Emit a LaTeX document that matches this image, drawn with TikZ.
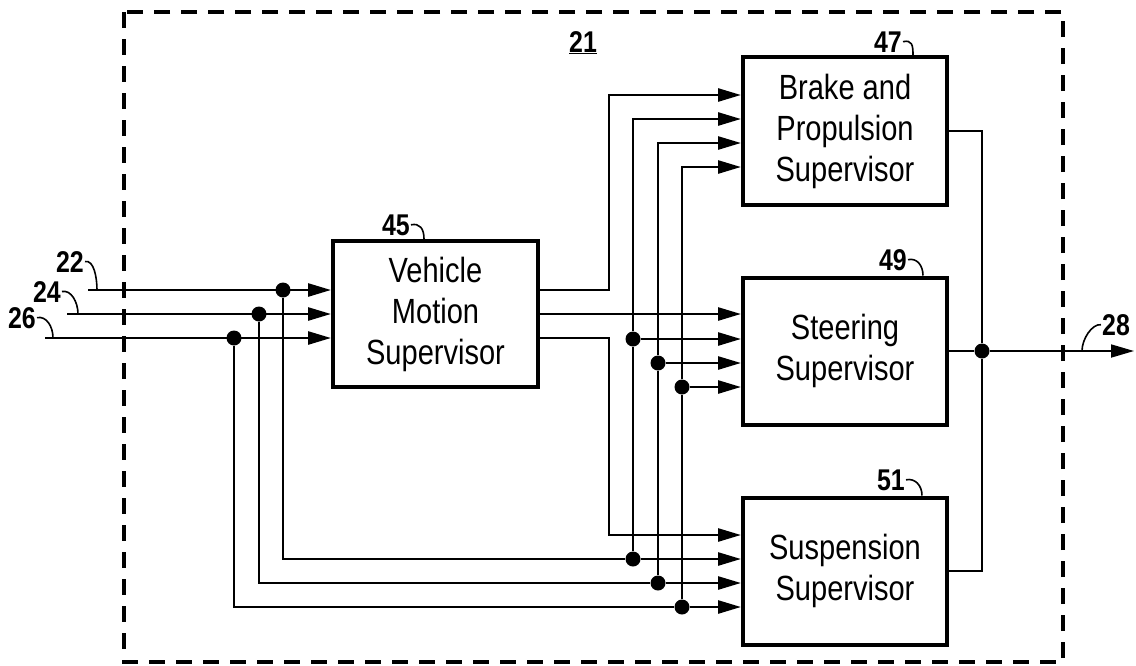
\documentclass[tikz,border=0pt]{standalone}
\usepackage{fontspec}
\newfontfamily\patfont[FakeStretch=0.83]{Liberation Sans}
\usetikzlibrary{positioning, arrows.meta, calc}

\begin{document}
\begin{tikzpicture}[
    x=1pt, y=-1pt,
    supervisor/.style = {rectangle, draw, line width=4pt, minimum width=204pt, minimum height=147pt,
                         align=center, font=\patfont\fontsize{35}{41}\selectfont},
    wire/.style    = {line width=2.6pt},
    arrow/.style   = {wire, -{Triangle[length=23pt, width=13pt]}},
    bus/.style     = {line width=1.8pt},
    dot/.style     = {circle, fill, inner sep=0pt, minimum size=15pt},
    tag/.style     = {font=\patfont\bfseries\fontsize{30}{30}\selectfont, inner sep=1pt},
    hook/.style    = {line width=1.6pt},
    frame/.style   = {line width=4pt, dash pattern=on 16pt off 11pt}
]
\useasboundingbox (0,0) rectangle (1136,665);
\draw[frame] (124,12) rectangle (1063,662);
\node[tag, anchor=base] (l21) at (583,52) {\underline{21}};

% supervisors
\node[supervisor, minimum width=205pt, minimum height=146pt] (vms) at (435.5,314) {Vehicle\\Motion\\Supervisor};
\node[supervisor, minimum height=148pt] (brk) at (845,131) {Brake and\\Propulsion\\Supervisor};
\node[supervisor] (str) at (845,351) {Steering\\Supervisor};
\node[supervisor] (sus) at (845,571) {Suspension\\Supervisor};

\foreach \b in {brk, str, sus} {
  \coordinate (\b1) at ([yshift=36pt]\b.west);
  \coordinate (\b2) at ([yshift=12pt]\b.west);
  \coordinate (\b3) at ([yshift=-12pt]\b.west);
  \coordinate (\b4) at ([yshift=-36pt]\b.west);
}

% inputs and junctions
\coordinate (in22) at (88,290);
\coordinate (in24) at (67,314);
\coordinate (in26) at (45,338);
\node[dot] (v22) at (283,290) {};
\node[dot] (v24) at (259,314) {};
\node[dot] (v26) at (234,338) {};
\node[dot] (s22) at (633,559) {};
\node[dot] (s24) at (658,583) {};
\node[dot] (s26) at (682,607) {};
\node[dot] (t22) at (633,339) {};
\node[dot] (t24) at (658,363) {};
\node[dot] (t26) at (682,387) {};
\node[dot] (jo)  at (982,351) {};
\coordinate (o28) at (1134,351);

\foreach \a in {22, 24, 26}
  \draw[arrow] (in\a) -- (vms.west |- in\a);
\foreach \i/\n in {22/2, 24/3, 26/4} {
  \draw[wire] (v\i) |- (s\i);
  \draw[arrow] (s\i) -- (sus\n);
  \draw[wire] (s\i) -- (t\i);
  \draw[arrow] (t\i) -- (str\n);
  \draw[arrow] (t\i) |- (brk\n);
}
\draw[arrow] (vms.east |- in22) -- ++(69,0) |- (brk1);
\draw[arrow] (vms.east |- in24) -- (str.west |- in24);
\draw[arrow] (vms.east |- in26) -- ++(69,0) |- (sus1);

% output
\draw[bus] (brk.east) -| (jo);
\draw[bus] (sus.east) -| (jo);
\draw[bus] (str.east) -- (jo);
\draw[bus, -{Triangle[length=23pt, width=13pt]}] (jo) -- (o28);

% reference numerals
\node[tag, anchor=base east] (l45) at (411,235) {45};
\node[tag, anchor=base east] (l47) at (903,52) {47};
\node[tag, anchor=base east] (l49) at (908,270) {49};
\node[tag, anchor=base east] (l51) at (906,490) {51};
\node[tag, anchor=base east] (l22) at (85,272) {22};
\node[tag, anchor=base east] (l24) at (62,302) {24};
\node[tag, anchor=base east] (l26) at (37,328) {26};
\node[tag, anchor=base west] (l28) at (1101,335) {28};
\draw[hook] (l45.east) .. controls +(9,-2) and +(0,-10) .. ([xshift=-11.5pt]vms.north);
\draw[hook] (l47.east) .. controls +(9,-2) and +(0,-10) .. ([xshift=68pt]brk.north);
\draw[hook] (l49.east) .. controls +(9,-2) and +(0,-10) .. ([xshift=78pt]str.north);
\draw[hook] (l51.east) .. controls +(9,-2) and +(0,-10) .. ([xshift=77pt]sus.north);
\draw[hook] (l22.east) .. controls +(9,-2) and +(0,-12) .. ([xshift=9pt]in22);
\draw[hook] (l24.east) .. controls +(9,-2) and +(0,-12) .. ([xshift=11pt]in24);
\draw[hook] (l26.east) .. controls +(9,-2) and +(0,-12) .. ([xshift=8pt]in26);
\draw[hook] (l28.west) .. controls +(-9,-1) and +(0,-12) .. ([xshift=-52pt]o28);
\end{tikzpicture}
\end{document}
